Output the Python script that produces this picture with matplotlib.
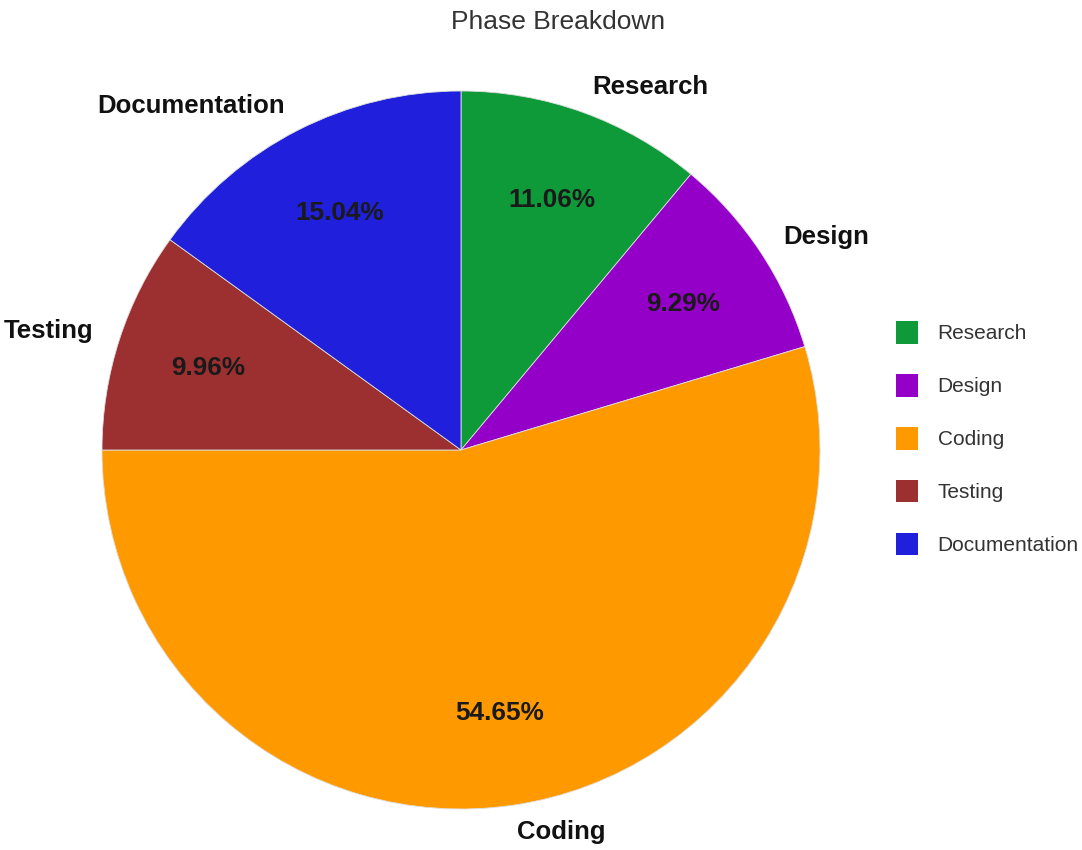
import matplotlib
matplotlib.use("Agg")
import matplotlib.pyplot as plt
from matplotlib.patches import Patch

categories = ["Research", "Design", "Coding", "Testing", "Documentation"]
values = [11.06, 9.29, 54.65, 9.96, 15.04]
colors = ["#0f9a3a", "#9400c8", "#ff9900", "#9c3030", "#1f1fdc"]
title = "Phase Breakdown"

plt.rcParams['font.family'] = ['Liberation Sans', 'DejaVu Sans']

W, H = 1082, 850
fig = plt.figure(figsize=(W / 100, H / 100), dpi=100)

cx, cy, r = 461, 450, 359
ax = fig.add_axes([(cx - r) / W, 1 - (cy + r) / H, 2 * r / W, 2 * r / H])

wedges, texts, autotexts = ax.pie(
    values, labels=categories, colors=colors, startangle=90, counterclock=False,
    autopct=lambda p: f"{p:.2f}%", pctdistance=0.74, labeldistance=1.075,
    wedgeprops=dict(edgecolor="#dddddd", linewidth=0.6),
    textprops=dict(fontsize=18.5, fontweight="bold", color="#111111"),
)
for t in autotexts:
    t.set_fontsize(18.8)
    t.set_color("#1a1a1a")
ax.set_xlim(-1, 1)
ax.set_ylim(-1, 1)
ax.set_aspect("equal")
ax.axis("off")

fig.text(558 / W, 1 - 22 / H, title, ha="center", va="center", fontsize=19, color="#333333")

handles = [Patch(facecolor=c, edgecolor="none") for c in colors]
leg = fig.legend(handles, categories, loc="upper left",
                 bbox_to_anchor=(896 / W, 1 - 321 / H), frameon=False,
                 fontsize=15, handlelength=1.05, handleheight=1.3,
                 labelspacing=1.45, handletextpad=0.95, borderpad=0,
                 borderaxespad=0)
for t in leg.get_texts():
    t.set_color("#333333")

fig.savefig("out.png", dpi=100, facecolor="white")
